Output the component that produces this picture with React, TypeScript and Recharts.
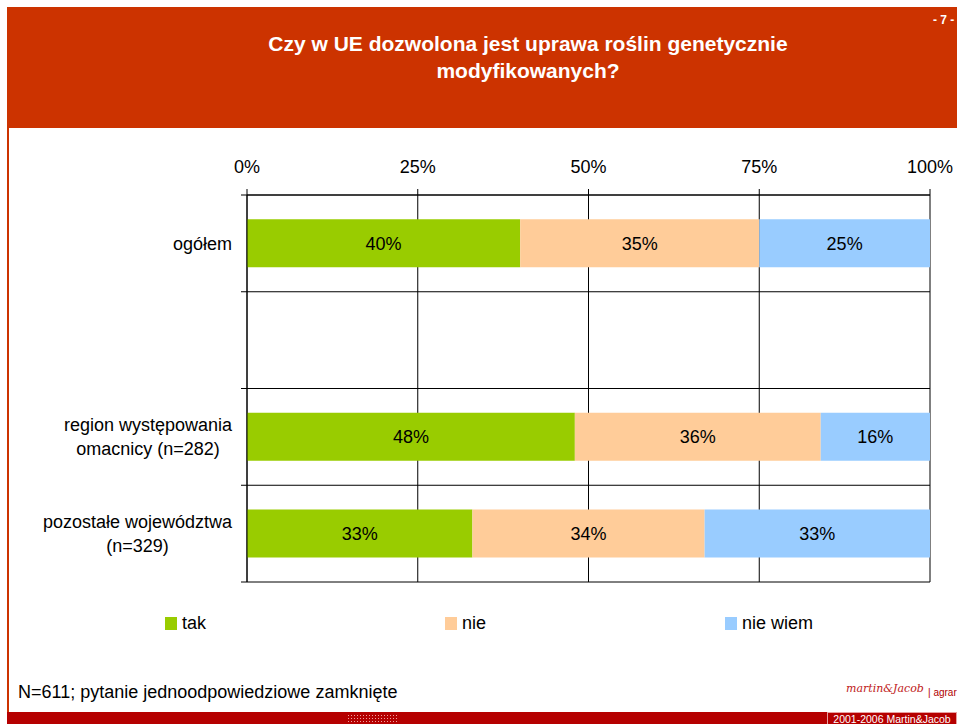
import { BarChart, Bar, XAxis, YAxis, CartesianGrid, LabelList, Legend } from 'recharts';

const categories = ['ogółem', '', 'region występowania\nomacnicy (n=282)', 'pozostałe województwa\n(n=329)'];
const tak = [40, null, 48, 33];
const nie = [35, null, 36, 34];
const nieWiem = [25, null, 16, 33];
const seriesNames = ['tak', 'nie', 'nie wiem'];
const xTicks = [0, 25, 50, 75, 100];

const data = categories.map((name, i) => ({ name, tak: tak[i], nie: nie[i], nieWiem: nieWiem[i] }));

const FONT = '"Liberation Sans", Arial, sans-serif';
const RED = '#CC3300';

let ctx: CanvasRenderingContext2D | null = null;
const measure = (s: string) => {
    if (!ctx) ctx = document.createElement('canvas').getContext('2d');
    if (!ctx) return s.length * 9;
    ctx.font = `18px ${FONT}`;
    return ctx.measureText(s).width;
};

const CategoryTick = (props: any) => {
    const { x, y, payload } = props;
    const lines = String(payload.value).split('\n');
    const w = Math.max(...lines.map(measure));
    const cx = x - w / 2;
    return (
        <g>
            {lines.map((l, i) => (
                <text key={i} x={cx} y={y + (i - (lines.length - 1) / 2) * 24} dy="0.36em"
                    textAnchor="middle" fill="#000" fontSize={18} fontFamily={FONT}>
                    {l}
                </text>
            ))}
        </g>
    );
};

const legendX = [165, 445, 725];

const renderLegend = (props: any) => {
    const items = [...(props.payload || [])].sort(
        (a: any, b: any) => seriesNames.indexOf(a.value) - seriesNames.indexOf(b.value));
    return (
        <div style={{ position: 'relative', height: 20, fontFamily: FONT, fontSize: 18 }}>
            {items.map((it: any, i: number) => (
                <div key={i} style={{ position: 'absolute', left: legendX[i], top: 0, display: 'flex', alignItems: 'center' }}>
                    <span style={{ display: 'inline-block', width: 12, height: 13, background: it.color, marginRight: 5 }} />
                    <span style={{ color: '#000' }}>{it.value}</span>
                </div>
            ))}
        </div>
    );
};

const gridLine = (p: any) => (
    <line key={p.key} x1={p.x1 - 6} y1={p.y1} x2={p.x2} y2={p.y2} stroke="#000" strokeWidth={1} />
);

export default function App() {
    return (
        <div style={{ position: 'absolute', left: 0, top: 0, width: 957, height: 724, background: '#fff', overflow: 'hidden', fontFamily: FONT }}>
            {/* header */}
            <div style={{ position: 'absolute', left: 7, top: 7, width: 950, height: 121, background: RED }} />
            <div style={{ position: 'absolute', left: 228, top: 30, width: 600, textAlign: 'center', color: '#fff', fontWeight: 'bold', fontSize: 21, lineHeight: '27px' }}>
                Czy w UE dozwolona jest uprawa roślin genetycznie<br />modyfikowanych?
            </div>
            <div style={{ position: 'absolute', left: 933, top: 13, color: '#fff', fontWeight: 'bold', fontSize: 12, whiteSpace: 'nowrap' }}>- 7 -</div>
            <div style={{ position: 'absolute', left: 7, top: 128, width: 2, height: 584, background: RED }} />

            <div style={{ position: 'absolute', left: 0, top: 0 }}>
                <BarChart width={957} height={724} data={data} layout="vertical" barCategoryGap="25%"
                    margin={{ top: 165, right: 27, bottom: 142, left: 7 }} style={{ fontFamily: FONT }}>
                    <CartesianGrid stroke="#000" vertical={{ stroke: '#000' }} horizontal={gridLine}
                        horizontalCoordinatesGenerator={({ offset }: any) =>
                            [0, 1, 2, 3, 4].map((i) => offset.top + (i * offset.height) / 4)} />
                    <XAxis type="number" orientation="top" domain={[0, 100]} ticks={xTicks} height={30}
                        tickFormatter={(v) => `${v}%`} stroke="#000" tickSize={6} tickMargin={16}
                        tick={{ fill: '#000', fontSize: 18, fontFamily: FONT }} />
                    <YAxis type="category" dataKey="name" width={240} stroke="#000" tickLine={false}
                        tickMargin={9} interval={0} tick={<CategoryTick />} />
                    <Legend layout="horizontal" verticalAlign="middle" align="center" content={renderLegend}
                        wrapperStyle={{ top: 613, left: 0, width: 957 }} />
                    <Bar dataKey="tak" name="tak" stackId="a" fill="#99CC00" isAnimationActive={false}>
                        <LabelList dataKey="tak" position="center" fill="#000" fontSize={18} fontFamily={FONT}
                            formatter={(v: any) => (v == null ? '' : `${v}%`)} />
                    </Bar>
                    <Bar dataKey="nie" name="nie" stackId="a" fill="#FFCC99" isAnimationActive={false}>
                        <LabelList dataKey="nie" position="center" fill="#000" fontSize={18} fontFamily={FONT}
                            formatter={(v: any) => (v == null ? '' : `${v}%`)} />
                    </Bar>
                    <Bar dataKey="nieWiem" name="nie wiem" stackId="a" fill="#99CCFF" isAnimationActive={false}>
                        <LabelList dataKey="nieWiem" position="center" fill="#000" fontSize={18} fontFamily={FONT}
                            formatter={(v: any) => (v == null ? '' : `${v}%`)} />
                    </Bar>
                </BarChart>
            </div>

            {/* footer */}
            <div style={{ position: 'absolute', left: 18, top: 682, fontSize: 18, color: '#000', whiteSpace: 'nowrap' }}>
                N=611; pytanie jednoodpowiedziowe zamknięte
            </div>
            <div style={{ position: 'absolute', left: 846, top: 682, fontSize: 11, fontStyle: 'italic', fontFamily: '"DejaVu Serif", serif', color: '#c02020', whiteSpace: 'nowrap' }}>
                martin&amp;Jacob
            </div>
            <div style={{ position: 'absolute', left: 928, top: 687, fontSize: 10, color: '#b00000', whiteSpace: 'nowrap' }}>| agrar</div>
            <div style={{ position: 'absolute', left: 7, top: 712, width: 950, height: 12, background: '#B50000' }} />
            <div style={{ position: 'absolute', left: 347, top: 714, width: 52, height: 9,
                backgroundImage: 'radial-gradient(circle, rgba(255,200,200,0.8) 0.7px, transparent 0.9px)', backgroundSize: '3px 3px' }} />
            <div style={{ position: 'absolute', left: 827, top: 712, width: 128, height: 11, border: '1px solid #e8a0a0', borderBottom: 'none',
                color: '#fff', fontSize: 10.5, lineHeight: '12px', textAlign: 'center', whiteSpace: 'nowrap' }}>
                2001-2006 Martin&amp;Jacob
            </div>
        </div>
    );
}
